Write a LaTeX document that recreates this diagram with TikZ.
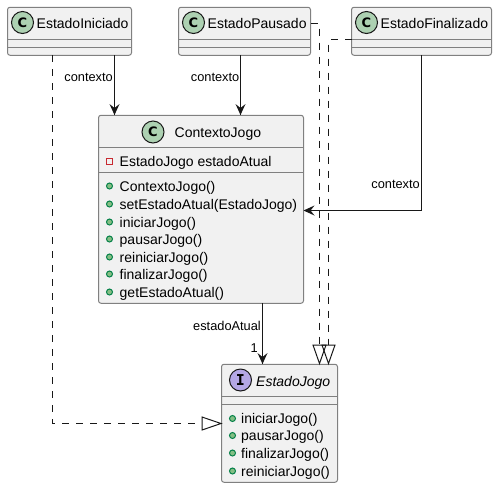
\documentclass[tikz,border=0pt]{standalone}
\usepackage{fontspec}
\setmainfont{Liberation Sans}
\newfontfamily\spotfont{DejaVu Sans Mono}
\newfontfamily\spotwide{DejaVu Sans}
\definecolor{boxfill}{HTML}{F1F1F1}
\definecolor{boxline}{HTML}{808080}
\definecolor{spotc}{HTML}{ADD1B2}
\definecolor{spoti}{HTML}{B4A7E5}
\definecolor{pubfill}{HTML}{84BE84}
\definecolor{publine}{HTML}{038048}
\definecolor{privline}{HTML}{C82930}
\definecolor{ink}{HTML}{181818}
\tikzset{
  x=1pt,y=-1pt,
  umlbox/.style={draw=boxline,fill=boxfill,line width=1pt,rounded corners=2.5pt,inner sep=0pt,outer sep=0pt},
  rule/.style={draw=boxline,line width=1pt},
  spot/.style={circle,draw=ink,line width=1pt,minimum size=22pt,inner sep=0pt},
  title/.style={font=\fontsize{14}{14}\selectfont,text=black,inner sep=0pt,anchor=base west},
  member/.style={font=\fontsize{14}{14}\selectfont,text=black,inner sep=0pt,anchor=base west},
  edgelabel/.style={font=\fontsize{12.8}{13}\selectfont,text=black,inner sep=0pt,anchor=base east},
  conn/.style={draw=ink,line width=1pt},
  dashconn/.style={draw=ink,line width=1pt,dash pattern=on 7pt off 7pt},
  pub/.style={circle,draw=publine,fill=pubfill,line width=1pt,minimum size=6pt,inner sep=0pt},
  priv/.style={rectangle,draw=privline,line width=1pt,minimum size=6pt,inner sep=0pt},
  openhead/.style={draw=ink,line width=1pt,fill=white,line join=miter},
}
\newcommand{\headdown}[2]{\fill[ink] (#1,#2) -- (#1-5,#2-11) -- (#1,#2-7) -- (#1+5,#2-11) -- cycle;}
\newcommand{\headleft}[2]{\fill[ink] (#1,#2) -- (#1+11,#2-5) -- (#1+7,#2) -- (#1+11,#2+5) -- cycle;}
\newcommand{\spotletter}[1]{\spotfont\bfseries\fontsize{15}{15}\selectfont #1}
\newcommand{\spotwideletter}[1]{\spotwide\bfseries\fontsize{13}{13}\selectfont #1}
\begin{document}
\begin{tikzpicture}
\useasboundingbox (0,0) rectangle (497,488);
\fill[white] (0,0) rectangle (497,488);

% boxes
\node[umlbox,minimum width=124pt,minimum height=48pt] (ini) at (69.5,31.25) {};
\node[umlbox,minimum width=132pt,minimum height=48pt] (pau) at (244.5,31.25) {};
\node[umlbox,minimum width=140pt,minimum height=48pt] (fin) at (421.5,31.25) {};
\node[umlbox,minimum width=205pt,minimum height=188pt] (ctx) at (201,209.25) {};
\node[umlbox,minimum width=116pt,minimum height=118pt] (jog) at (279.5,423.25) {};

% free ends of the connectors
\coordinate (pauout) at (319.5,23.5);
\coordinate (finout) at (328.5,39.5);
\coordinate (inibend) at (52.5,423.5);
\coordinate (finbend) at (421.5,210.5);

% dividers
\draw[rule] (ini.west |- 0,39) -- (ini.east |- 0,39) (ini.west |- 0,47) -- (ini.east |- 0,47);
\draw[rule] (pau.west |- 0,39) -- (pau.east |- 0,39) (pau.west |- 0,47) -- (pau.east |- 0,47);
\draw[rule] (fin.west |- 0,39) -- (fin.east |- 0,39) (fin.west |- 0,47) -- (fin.east |- 0,47);
\draw[rule] (ctx.west |- 0,147) -- (ctx.east |- 0,147) (ctx.west |- 0,172) -- (ctx.east |- 0,172);
\draw[rule] (jog.west |- 0,396) -- (jog.east |- 0,396) (jog.west |- 0,404) -- (jog.east |- 0,404);

% spots and titles
\node[spot,fill=spotc] (s1) at (22.5,22.5) {\spotwideletter{C}};
\node[title] (t1) at (36.5,28.8) {EstadoIniciado};
\node[spot,fill=spotc] (s2) at (193.5,22.5) {\spotwideletter{C}};
\node[title] (t2) at (207.5,28.8) {EstadoPausado};
\node[spot,fill=spotc] (s3) at (366.5,22.5) {\spotwideletter{C}};
\node[title] (t3) at (380.5,28.8) {EstadoFinalizado};
\node[spot,fill=spotc] (s4) at (153,132) {\spotwideletter{C}};
\node[title] (t4) at (174.5,137) {ContextoJogo};
\node[spot,fill=spoti] (s5) at (240.5,380) {\spotletter{I}};
\node[title] (t5) at (256,386) {\itshape EstadoJogo};

% members
\node[priv] (p0) at (109.5,161.5) {};
\node[member] (m0) at (119.5,166) {EstadoJogo estadoAtual};
\node[pub] (p1) at (109.5,186) {};
\node[member] (m1) at (119.5,191) {ContextoJogo()};
\node[pub] (p2) at (109.5,204) {};
\node[member] (m2) at (119.5,209) {setEstadoAtual(EstadoJogo)};
\node[pub] (p3) at (109.5,222) {};
\node[member] (m3) at (119.5,227) {iniciarJogo()};
\node[pub] (p4) at (109.5,239) {};
\node[member] (m4) at (119.5,244) {pausarJogo()};
\node[pub] (p5) at (109.5,257) {};
\node[member] (m5) at (119.5,262) {reiniciarJogo()};
\node[pub] (p6) at (109.5,274) {};
\node[member] (m6) at (119.5,279) {finalizarJogo()};
\node[pub] (p7) at (109.5,292) {};
\node[member] (m7) at (119.5,297) {getEstadoAtual()};

\node[pub] (q1) at (232.5,418.5) {};
\node[member] (n1) at (241,423) {iniciarJogo()};
\node[pub] (q2) at (232.5,435.5) {};
\node[member] (n2) at (241,440.5) {pausarJogo()};
\node[pub] (q3) at (232.5,453) {};
\node[member] (n3) at (241,458) {finalizarJogo()};
\node[pub] (q4) at (232.5,471) {};
\node[member] (n4) at (241,476) {reiniciarJogo()};

% connectors
\draw[conn] (ini.south -| 114.5,0) -- (ctx.north -| 114.5,0);
\headdown{114.5}{115}
\draw[conn] (pau.south -| 240.5,0) -- (ctx.north -| 240.5,0);
\headdown{240.5}{115}
\draw[conn] (fin.south -| finbend) -- (finbend) -- (finbend -| ctx.east);
\headleft{303.5}{210.5}
\draw[conn] (ctx.south -| 262.5,0) -- (jog.north -| 262.5,0);
\headdown{262.5}{364}

\draw[dashconn] (ini.south -| inibend) -- (inibend) -- (202,423.5);
\draw[openhead] (221,423.5) -- (202,417) -- (202,430) -- cycle;
\draw[dashconn] (pau.east |- pauout) -- (pauout) -- (319.5,345);
\draw[dashconn] (fin.west |- finout) -- (finout) -- (328.5,345);
\fill[white] (319.5,363.5) -- (313,345) -- (326,345) -- cycle;
\fill[white] (328.5,363.5) -- (322,345) -- (335,345) -- cycle;
\draw[openhead,fill=none] (319.5,363.5) -- (313,345) -- (326,345) -- cycle;
\draw[openhead,fill=none] (328.5,363.5) -- (322,345) -- (335,345) -- cycle;

% labels
\node[edgelabel] (l1) at (113,81) {contexto};
\node[edgelabel] (l2) at (239.5,81) {contexto};
\node[edgelabel] (l3) at (420,188) {contexto};
\node[edgelabel] (l4) at (261,330) {estadoAtual};
\node[edgelabel] (l5) at (258,352) {1};
\end{tikzpicture}
\end{document}
